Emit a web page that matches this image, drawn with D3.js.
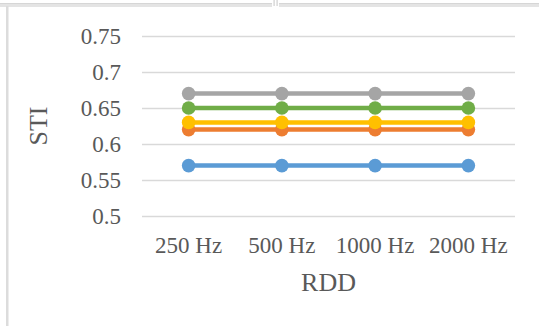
<!DOCTYPE html>
<html>
<head>
<meta charset="utf-8">
<script src="https://cdnjs.cloudflare.com/ajax/libs/d3/7.8.5/d3.min.js"></script>
<style>
    body { margin: 0; background: #fff; }
    svg { display: block; }
    .grid line { stroke: #d9d9d9; stroke-width: 1.3px; }
    .grid .domain { display: none; }
    text { font-family: "Liberation Serif", "Times New Roman", serif; fill: #595959; }
</style>
</head>
<body>
<svg class="target" width="539" height="326"></svg>
<script>
    // data
    const categories = ["250 Hz", "500 Hz", "1000 Hz", "2000 Hz"];
    const yTicks = [0.5, 0.55, 0.6, 0.65, 0.7, 0.75];
    const seriesBlue   = [0.57, 0.57, 0.57, 0.57];
    const seriesOrange = [0.62, 0.62, 0.62, 0.62];
    const seriesGray   = [0.67, 0.67, 0.67, 0.67];
    const seriesYellow = [0.63, 0.63, 0.63, 0.63];
    const seriesGreen  = [0.65, 0.65, 0.65, 0.65];

    const series = [
        { values: seriesBlue,   color: "#5b9bd5" },
        { values: seriesOrange, color: "#ed7d31" },
        { values: seriesGray,   color: "#a5a5a5" },
        { values: seriesYellow, color: "#ffc000" },
        { values: seriesGreen,  color: "#70ad47" }
    ];

    let svg = d3.select(".target");

    // frame bits from the surrounding sheet
    svg.append("rect").attr("x", 0).attr("y", 3).attr("width", 539).attr("height", 4).attr("fill", "#e4e4e4");
    svg.append("line").attr("x1", 0).attr("x2", 539).attr("y1", 3.5).attr("y2", 3.5).attr("stroke", "#d6d6d6");
    svg.append("rect").attr("x", 272).attr("y", 0).attr("width", 7).attr("height", 7).attr("fill", "#fff");
    svg.append("rect").attr("x", 273.5).attr("y", 0).attr("width", 1.2).attr("height", 6).attr("fill", "#d0d0d0");
    svg.append("rect").attr("x", 276.5).attr("y", 0).attr("width", 1.2).attr("height", 6).attr("fill", "#d0d0d0");
    svg.append("rect").attr("x", 6).attr("y", 6).attr("width", 2.5).attr("height", 320).attr("fill", "#dcdcdc");

    let x = d3.scaleBand().domain(categories).range([142, 515]);
    let y = d3.scaleLinear().domain([0.5, 0.75]).range([216, 36]);

    let grid = svg.append("g")
        .attr("class", "grid")
        .attr("transform", "translate(142,0)")
        .call(d3.axisLeft(y)
            .tickValues(yTicks)
            .tickSize(-(515 - 142))
            .tickPadding(21)
            .tickFormat(d3.format("")));

    grid.selectAll("text")
        .style("font-size", "23px")
        .attr("fill", "#595959");

    // category labels
    svg.append("g").selectAll("text")
        .data(categories)
        .enter().append("text")
        .attr("x", d => x(d) + x.bandwidth() / 2)
        .attr("y", 253)
        .attr("text-anchor", "middle")
        .style("font-size", "23px")
        .text(d => d);

    svg.append("text")
        .attr("x", (142 + 515) / 2)
        .attr("y", 291)
        .attr("text-anchor", "middle")
        .style("font-size", "26px")
        .text("RDD");

    svg.append("text")
        .attr("transform", "translate(47,126) rotate(-90)")
        .attr("text-anchor", "middle")
        .style("font-size", "26px")
        .text("STI");

    let line = d3.line()
        .x((d, i) => x(categories[i]) + x.bandwidth() / 2)
        .y(d => y(d));

    let g = svg.append("g");
    series.forEach(s => {
        g.append("path")
            .datum(s.values)
            .attr("fill", "none")
            .attr("stroke", s.color)
            .attr("stroke-width", 4.5)
            .attr("stroke-linecap", "round")
            .attr("d", line);
        g.selectAll(null)
            .data(s.values)
            .enter().append("circle")
            .attr("cx", (d, i) => x(categories[i]) + x.bandwidth() / 2)
            .attr("cy", d => y(d))
            .attr("r", 6.8)
            .attr("fill", s.color);
    });
</script>
</body>
</html>
